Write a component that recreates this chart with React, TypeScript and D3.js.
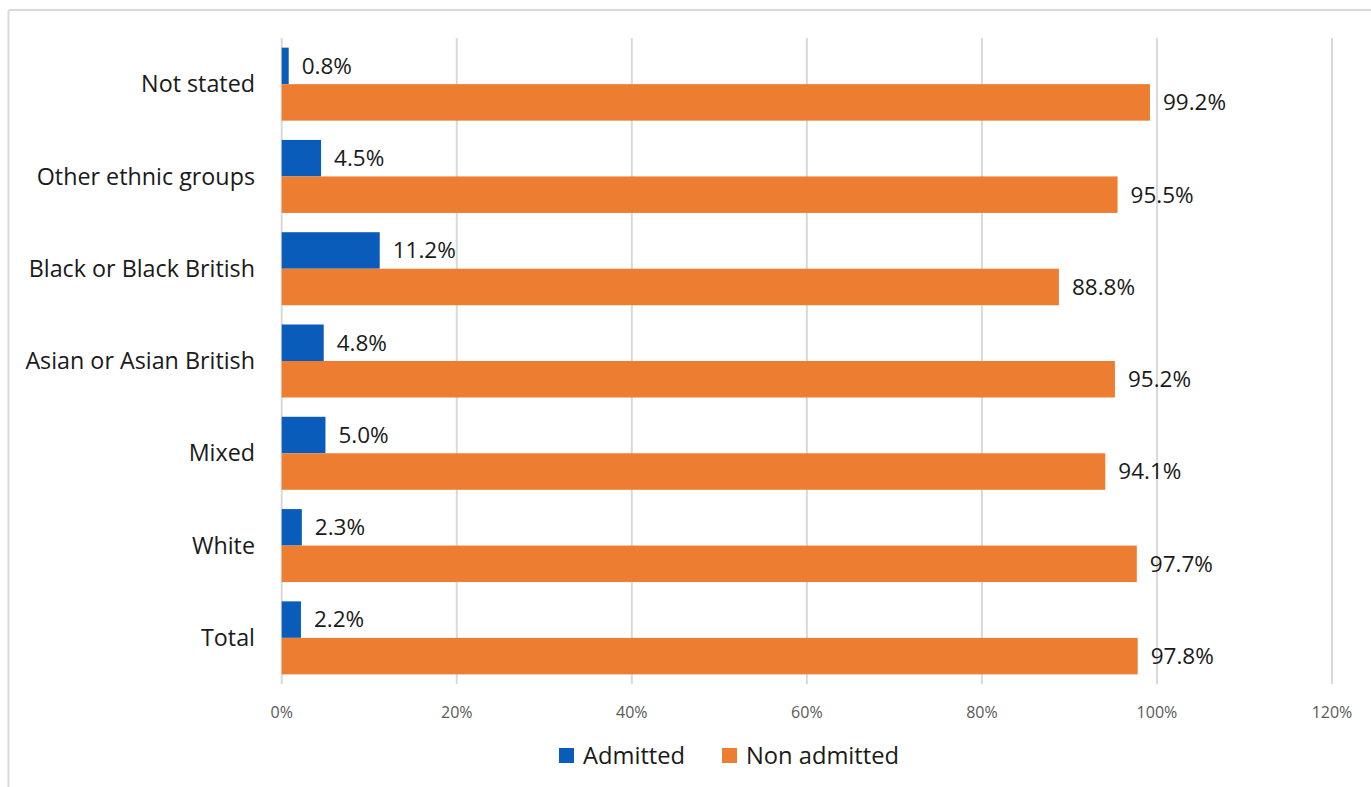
import React from "react";
import * as d3 from "d3";

const categories = [
  "Not stated",
  "Other ethnic groups",
  "Black or Black British",
  "Asian or Asian British",
  "Mixed",
  "White",
  "Total",
];
const seriesNames = ["Admitted", "Non admitted"];
const admitted = [0.8, 4.5, 11.2, 4.8, 5.0, 2.3, 2.2];
const nonAdmitted = [99.2, 95.5, 88.8, 95.2, 94.1, 97.7, 97.8];
const xTicks = [0, 20, 40, 60, 80, 100, 120];
const colors = ["#0a5cba", "#ed7d31"];

const W = 1371;
const H = 787;
const FONT = "'Open Sans', 'Noto Sans', sans-serif";

export default function App() {
  const x = d3.scaleLinear().domain([0, 120]).range([281.7, 1332]);
  const y = d3
    .scaleBand<string>()
    .domain(categories)
    .range([38, 684])
    .paddingInner(0.209)
    .paddingOuter(0.1045);
  const sub = d3.scaleBand<string>().domain(seriesNames).range([0, y.bandwidth()]);
  const values = [admitted, nonAdmitted];

  return (
    <svg
      width={W}
      height={H}
      style={{ position: "absolute", left: 0, top: 0, background: "#fff" }}
      fontFamily={FONT}
    >
      {/* chart border */}
      <line x1={8.5} y1={10} x2={8.5} y2={H} stroke="#d9d9d9" strokeWidth={2} />
      <line x1={8.5} y1={10} x2={W} y2={10} stroke="#d9d9d9" strokeWidth={2} />

      {/* gridlines */}
      {xTicks.map((t) => (
        <line
          key={"g" + t}
          x1={x(t)}
          x2={x(t)}
          y1={38}
          y2={684}
          stroke="#d9d9d9"
          strokeWidth={2}
        />
      ))}

      {/* bars */}
      {categories.map((c, i) => (
        <g key={c} transform={`translate(0,${y(c)})`}>
          {seriesNames.map((s, k) => {
            const v = values[k][i];
            const by = sub(s)!;
            const bh = sub.bandwidth();
            return (
              <g key={s}>
                <rect
                  x={x(0)}
                  y={by}
                  width={x(v) - x(0)}
                  height={bh}
                  fill={colors[k]}
                />
                <text
                  x={x(v) + 13}
                  y={by + bh / 2}
                  dy="0.35em"
                  fontSize={22.5}
                  fill="#1a1a1a"
                >
                  {v.toFixed(1) + "%"}
                </text>
              </g>
            );
          })}
          <text
            x={255}
            y={y.bandwidth() / 2}
            dy="0.35em"
            textAnchor="end"
            fontSize={23.3}
            fill="#1a1a1a"
          >
            {c}
          </text>
        </g>
      ))}

      {/* x tick labels */}
      {xTicks.map((t) => (
        <text
          key={"t" + t}
          x={x(t)}
          y={712}
          dy="0.35em"
          textAnchor="middle"
          fontSize={16}
          fill="#595959"
        >
          {t + "%"}
        </text>
      ))}

      {/* legend */}
      {seriesNames.map((s, k) => {
        const lx = [559, 722][k];
        return (
          <g key={"l" + s}>
            <rect x={lx} y={748} width={15} height={15} fill={colors[k]} />
            <text x={lx + 24} y={755.5} dy="0.35em" fontSize={23.7} fill="#1a1a1a">
              {s}
            </text>
          </g>
        );
      })}
    </svg>
  );
}
